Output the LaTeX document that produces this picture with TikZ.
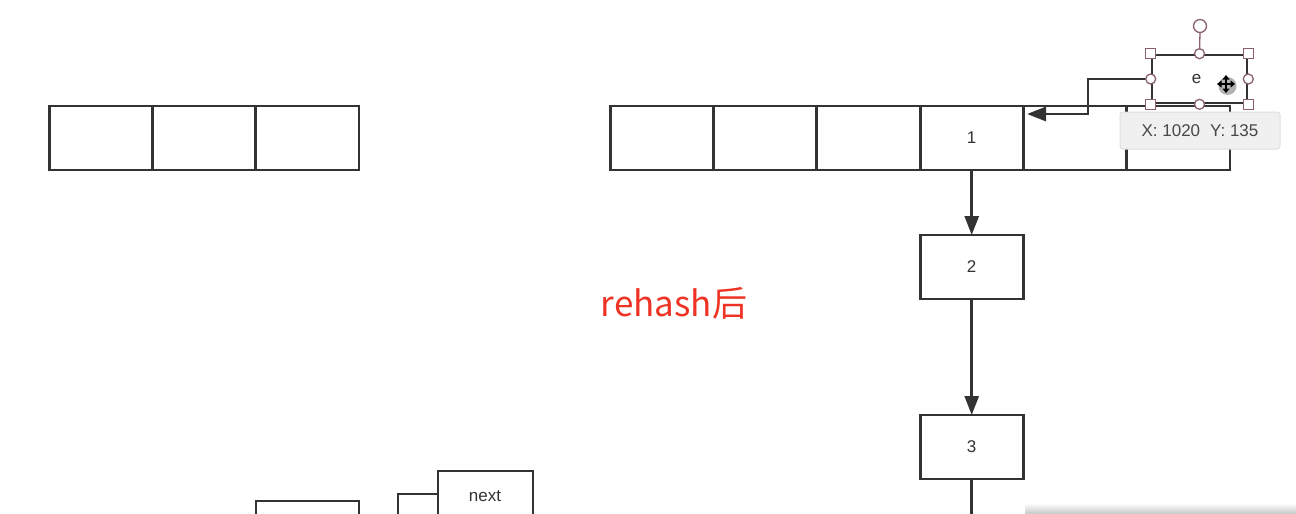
\documentclass[tikz,border=0pt]{standalone}
\usepackage{fontspec}
\setmainfont{Liberation Sans}
\newfontfamily\cjk{Noto Sans CJK SC}
\usetikzlibrary{arrows.meta,calc}
\definecolor{ln}{HTML}{333333}
\definecolor{hdl}{HTML}{8A6070}
\definecolor{redtxt}{HTML}{EE3324}
\tikzset{
  cell/.style={draw=ln, line width=2.9pt, fill=white, minimum width=103.3pt, minimum height=64pt, inner sep=0pt, outer sep=0pt, font=\fontsize{17}{17}\selectfont, text=ln},
  conn/.style={draw=ln, line width=2.9pt},
  arr/.style={conn, -{Triangle[length=19pt,width=14pt]}},
  sqh/.style={draw=hdl, line width=1.3pt, fill=white, minimum size=10pt, inner sep=0pt},
  cih/.style={draw=hdl, line width=1.3pt, fill=white, circle, minimum size=10pt, inner sep=0pt}
}
\begin{document}
\begin{tikzpicture}[x=1pt,y=-1pt]
\useasboundingbox (0,0) rectangle (1296,514);
\clip (0,0) rectangle (1296,514);
% left array
\node[cell] (L1) at (100.7,138) {};
\node[cell] (L2) at (204,138) {};
\node[cell] (L3) at (307.3,138) {};
% right array
\node[cell] (R1) at (661.7,138) {};
\node[cell] (R2) at (765,138) {};
\node[cell] (R3) at (868.3,138) {};
\node[cell] (R4) at (971.7,138) {1};
\node[cell] (R5) at (1075,138) {};
\node[cell] (R6) at (1178.3,138) {};
% chain
\node[cell] (n2) at (971.7,267) {2};
\node[cell] (n3) at (971.7,447) {3};
\draw[arr] (R4.south) -- (n2.north);
\draw[arr] (n2.south) -- (n3.north);
\coordinate (bot) at (971.7,530);
\draw[conn] (n3.south) -- (bot);
% red label
\node[text=redtxt, font=\cjk\fontsize{35}{35}\selectfont, inner sep=0pt] (lbl) at (674,303) {rehash后};
% tooltip
\node[draw=black!13, line width=1pt, fill=black!6, rounded corners=3pt, minimum width=160pt, minimum height=37pt, inner sep=0pt, text=ln!90, font=\fontsize{17}{17}\selectfont] (tip) at (1200,130.5) {X: 1020\hspace{10pt}Y: 135};
% selected node e
\node[draw=ln, line width=2.6pt, fill=white, minimum width=95pt, minimum height=48pt, inner sep=0pt, text=ln, font=\fontsize{17}{17}\selectfont] (e) at (1199.5,79) {\hspace{-6pt}e};
\coordinate (bend) at (1088,79);
\coordinate (etip) at (1027,114);
\draw[arr] (e.west) -- (bend) |- (etip);
% handles
\coordinate (rot) at (1200,26);
\draw[hdl, line width=1.3pt] (e.north) -- ($(rot)+(0,6)$);
\node[cih, minimum size=13pt] (rh) at (rot) {};
\node[sqh] (h1) at (e.north west) {};
\node[sqh] (h2) at (e.north east) {};
\node[sqh] (h3) at (e.south west) {};
\node[sqh] (h4) at (e.south east) {};
\node[cih] (h5) at (e.north) {};
\node[cih] (h6) at (e.south) {};
\node[cih] (h7) at (e.west) {};
\node[cih] (h8) at (e.east) {};
% move cursor
\coordinate (cur) at (1226,84);
\fill[black!30] ($(cur)+(1.5,2)$) circle (9pt);
\draw[black, line width=1.8pt, {Triangle[length=4.5pt,width=7pt]}-{Triangle[length=4.5pt,width=7pt]}] ($(cur)+(-9,0)$) -- ($(cur)+(9,0)$);
\draw[black, line width=1.8pt, {Triangle[length=4.5pt,width=7pt]}-{Triangle[length=4.5pt,width=7pt]}] ($(cur)+(0,-9)$) -- ($(cur)+(0,9)$);
% bottom-left shapes
\node[cell, minimum width=103pt, minimum height=40pt, anchor=north west] (b1) at (256,501) {};
\node[cell, minimum width=100pt, minimum height=40pt, anchor=north west] (b2) at (398,494) {};
\node[cell, minimum width=95pt, minimum height=60pt, anchor=north west] (nx) at (438,471) {};
\node[text=ln, font=\fontsize{17}{17}\selectfont, inner sep=0pt] (nxt) at (485,496) {next};
% bottom-right panel shadow
\shade[top color=white, bottom color=black!22] (1025,503) rectangle (1296,514);
\end{tikzpicture}
\end{document}
